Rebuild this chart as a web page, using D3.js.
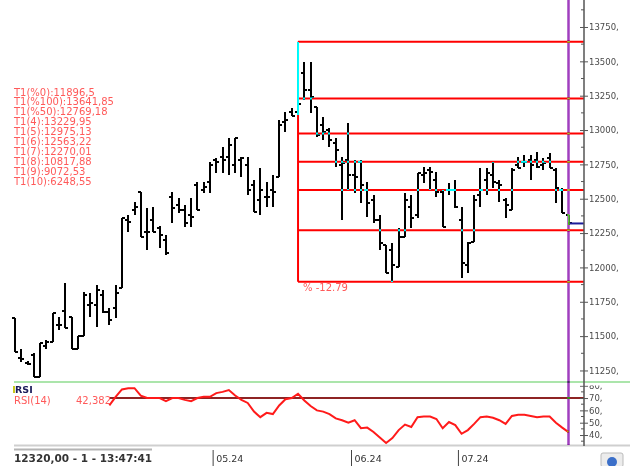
<!DOCTYPE html>
<html>
<head>
<meta charset="utf-8">
<script src="https://cdn.jsdelivr.net/npm/d3@7"></script>
<style>
    body { margin: 0; background: #fff; }
    svg { display: block; font-family: "DejaVu Sans", Verdana, sans-serif; }
</style>
</head>
<body>
<svg id="chart-svg" width="639" height="466"></svg>
<script>

const opens = [11632, 11341, 11305, 11363, 11203, 11428, 11457, 11581, 11683, 11639,
    11406, 11501, 11727, 11727, 11799, 11676, 11705, 11850, 12345, 12418,
    12549, 12258, 12345, 12287, 12200, 12513, 12454, 12418, 12382, 12600,
    12564, 12622, 12782, 12804, 12804, 12746, 12782, 12746, 12600, 12491,
    12513, 12564, 12658, 13059, 13131, 13131, 13415, 13291, 13168, 13037,
    13000, 12906, 12746, 12782, 12673, 12767, 12564, 12491, 12345, 12163,
    12127, 12003, 12222, 12440, 12382, 12673, 12709, 12636, 12549, 12564,
    12564, 12345, 12018, 12185, 12527, 12636, 12673, 12615, 12491, 12418,
    12746, 12767, 12782, 12782, 12746, 12797, 12709, 12564, 12382];

const highs = [11632, 11406, 11319, 11377, 11450, 11472, 11668, 11639, 11887, 11639,
    11501, 11821, 11814, 11872, 11836, 11705, 11872, 12360, 12382, 12476,
    12549, 12433, 12440, 12302, 12236, 12549, 12505, 12454, 12505, 12622,
    12622, 12767, 12797, 12877, 12942, 12942, 12804, 12804, 12636, 12724,
    12622, 12673, 13073, 13131, 13160, 13641.85, 13495, 13495, 13168, 13095,
    13015, 12942, 12804, 13051, 12782, 12782, 12622, 12527, 12382, 12163,
    12178, 12287, 12542, 12527, 12687, 12731, 12731, 12695, 12564, 12615,
    12636, 12440, 12185, 12527, 12724, 12724, 12767, 12636, 12505, 12724,
    12804, 12818, 12818, 12840, 12797, 12833, 12724, 12578, 12382];

const lows = [11385, 11312, 11290, 11203, 11203, 11406, 11457, 11545, 11559, 11406,
    11406, 11501, 11639, 11567, 11668, 11581, 11632, 11850, 12258, 12382,
    12222, 12127, 12258, 12142, 12091, 12323, 12396, 12294, 12294, 12418,
    12542, 12542, 12687, 12687, 12673, 12687, 12658, 12527, 12404, 12382,
    12440, 12440, 12658, 12986, 13102, 13110, 13219, 13124, 12949, 12928,
    12877, 12731, 12345, 12564, 12542, 12469, 12367, 12323, 12127, 11960,
    11896.5, 12003, 12222, 12287, 12360, 12615, 12564, 12513, 12294, 12527,
    12433, 11923, 11960, 12185, 12440, 12527, 12578, 12476, 12360, 12418,
    12724, 12731, 12636, 12724, 12709, 12724, 12469, 12396, 12310];

const closes = [11385, 11334, 11297, 11203, 11450, 11457, 11668, 11581, 11559, 11406,
    11501, 11799, 11741, 11836, 11676, 11618, 11814, 12360, 12331, 12440,
    12222, 12258, 12258, 12236, 12105, 12433, 12418, 12323, 12367, 12418,
    12586, 12746, 12767, 12782, 12891, 12942, 12797, 12564, 12404, 12564,
    12513, 12549, 13037, 13073, 13102, 13190, 13291, 13240, 12964, 12986,
    12928, 12855, 12760, 12673, 12658, 12600, 12469, 12345, 12178, 11960,
    12018, 12222, 12491, 12360, 12687, 12687, 12695, 12549, 12294, 12564,
    12440, 12032, 12178, 12491, 12564, 12687, 12622, 12600, 12454, 12709,
    12724, 12767, 12746, 12731, 12760, 12724, 12578, 12396, 12320];

// RSI(14), first value belongs to bar rsiStart
const rsiStart = 15;
const rsiValues = [64, 71, 77, 78, 78, 72, 70, 70, 70, 67.5,
    70, 70, 68.5, 67.5, 70, 71, 71, 74, 75, 76.5,
    72, 68.5, 66, 59, 54.5, 58, 57, 64, 69, 70,
    73.5, 68, 63.5, 60, 59, 57, 53.5, 52, 50, 52,
    45.5, 46, 42.5, 38, 33.5, 37.5, 44, 48.5, 46.5, 54.5,
    55, 55, 53, 45.5, 50.5, 48, 41, 44, 49, 54.5,
    55, 54, 52, 49, 55.5, 56.5, 56.5, 55.5, 54.5, 55,
    55, 50, 46, 42.382];

const fibNames = ['T1(%0)', 'T1(%100)', 'T1(%50)', 'T1(4)', 'T1(5)', 'T1(6)', 'T1(7)', 'T1(8)', 'T1(9)', 'T1(10)'];
const fibValues = [11896.5, 13641.85, 12769.18, 13229.95, 12975.13, 12563.22, 12270.01, 10817.88, 9072.53, 6248.55];
const fibHighIndex = 45;

const priceTicks = [11250, 11500, 11750, 12000, 12250, 12500, 12750, 13000, 13250, 13500, 13750];
const rsiTicks = [40, 50, 60, 70, 80];
const rsiLevel = 70;

const monthLabels = ['05.24', '06.24', '07.24'];
const monthStarts = [32, 54, 71];

const lastPrice = 12320;
const statusText = '12320,00 - 1 - 13:47:41';


class OhlcChart {

    constructor() {
        this.svg = d3.select('#chart-svg');
        this.axisX = 584;
        this.xScale = d3.scaleLinear().domain([0, closes.length - 1]).range([15, 568.5]);
        this.yScale = d3.scaleLinear().domain([11166, 13946.5]).range([382, 0]);
        this.rsiScale = d3.scaleLinear().domain([31.9, 82.2]).range([445, 383]);
        this.step = this.xScale(1) - this.xScale(0);
    }

    draw() {
        this.drawFrame();
        this.drawBars();
        this.drawFibo();
        this.drawRsi();
        this.drawMarkers();
        this.drawAxes();
        this.drawTexts();
    }

    drawFrame() {
        let svg = this.svg;

        svg.append('rect').attr('width', 639).attr('height', 466).attr('fill', '#fff');

        // panel separator
        svg.append('line')
            .attr('x1', 14).attr('x2', 630).attr('y1', 382).attr('y2', 382)
            .attr('stroke', '#8fdc8f').attr('stroke-width', 1.5);

        svg.append('line')
            .attr('x1', 14).attr('x2', 630).attr('y1', 445.5).attr('y2', 445.5)
            .attr('stroke', '#cfcfcf').attr('stroke-width', 2);
    }

    drawBars() {
        let x = this.xScale, y = this.yScale;

        let g = this.svg.append('g')
            .attr('stroke', '#000')
            .attr('stroke-width', 2)
            .attr('fill', 'none')
            .attr('shape-rendering', 'crispEdges');

        g.selectAll('path')
            .data(closes)
            .enter()
            .append('path')
            .attr('d', (d, i) => {
                let p = d3.path();
                p.moveTo(x(i), y(highs[i]));
                p.lineTo(x(i), y(lows[i]));
                p.moveTo(x(i) - 3, y(opens[i]));
                p.lineTo(x(i), y(opens[i]));
                p.moveTo(x(i), y(d));
                p.lineTo(x(i) + 3, y(d));
                return p.toString();
            });
    }

    drawFibo() {
        let x = this.xScale, y = this.yScale;
        let [lo, hi] = d3.extent(fibValues.slice(0, 7));
        let x0 = x(fibHighIndex);

        let p = d3.path();
        p.moveTo(x0, y(hi));
        p.lineTo(x0, y(lo));
        fibValues.forEach(v => {
            if (v >= y.domain()[0]) {
                p.moveTo(x0, y(v));
                p.lineTo(this.axisX, y(v));
            }
        });

        // difference blend: red on white, cyan over the black bars
        this.svg.append('path')
            .attr('d', p.toString())
            .attr('fill', 'none')
            .attr('stroke', '#00ffff')
            .attr('stroke-width', 2)
            .style('mix-blend-mode', 'difference');

        let pct = ((fibValues[0] - fibValues[1]) / fibValues[1] * 100).toFixed(2);
        this.svg.append('text')
            .attr('x', x0 + 5)
            .attr('y', y(fibValues[0]) + 9)
            .attr('font-size', 10)
            .attr('fill', '#ff5a5a')
            .text('% ' + pct);
    }

    drawRsi() {
        let x = this.xScale, r = this.rsiScale;

        this.svg.append('line')
            .attr('x1', x(rsiStart)).attr('x2', this.axisX)
            .attr('y1', r(rsiLevel)).attr('y2', r(rsiLevel))
            .attr('stroke', '#8e2424').attr('stroke-width', 2);

        let line = d3.line()
            .x((d, i) => x(i + rsiStart))
            .y(d => r(d));

        this.svg.append('path')
            .attr('d', line(rsiValues))
            .attr('fill', 'none')
            .attr('stroke', '#ff1a1a')
            .attr('stroke-width', 2);
    }

    drawMarkers() {
        let x = this.xScale, y = this.yScale;
        let last = closes.length - 1;

        this.svg.append('line')
            .attr('x1', x(last)).attr('x2', this.axisX)
            .attr('y1', y(lastPrice)).attr('y2', y(lastPrice))
            .attr('stroke', '#1c1c9a').attr('stroke-width', 2);

        // purple cursor line, shows green over black
        this.svg.append('line')
            .attr('x1', x(last)).attr('x2', x(last))
            .attr('y1', 0).attr('y2', 445)
            .attr('stroke', '#5fc040').attr('stroke-width', 2.5)
            .style('mix-blend-mode', 'difference');
    }

    drawAxes() {
        let svg = this.svg;
        let ax = this.axisX;

        svg.append('line')
            .attr('x1', ax).attr('x2', ax).attr('y1', 0).attr('y2', 446)
            .attr('stroke', '#555').attr('stroke-width', 1.5);

        let priceAxis = d3.axisRight(this.yScale)
            .tickValues(priceTicks)
            .tickSize(4)
            .tickPadding(1)
            .tickFormat(d => d + ',');

        let pg = svg.append('g')
            .attr('transform', 'translate(' + ax + ',0)')
            .call(priceAxis);
        this.styleAxis(pg);

        let minor = d3.range(11125, 14000, 250);
        svg.append('g').selectAll('line')
            .data(minor.filter(d => d > this.yScale.domain()[0]))
            .enter().append('line')
            .attr('x1', ax - 3).attr('x2', ax)
            .attr('y1', d => this.yScale(d)).attr('y2', d => this.yScale(d))
            .attr('stroke', '#555');

        svg.append('clipPath').attr('id', 'rsi-clip')
            .append('rect').attr('x', ax - 10).attr('y', 385.5).attr('width', 60).attr('height', 60);

        let rsiAxis = d3.axisRight(this.rsiScale)
            .tickValues(rsiTicks)
            .tickSize(4)
            .tickPadding(1)
            .tickFormat(d => d + ',');

        let rg = svg.append('g')
            .attr('clip-path', 'url(#rsi-clip)')
            .append('g')
            .attr('transform', 'translate(' + ax + ',0)')
            .call(rsiAxis);
        this.styleAxis(rg);

        svg.append('g').selectAll('line')
            .data(d3.range(35, 80, 10))
            .enter().append('line')
            .attr('x1', ax - 3).attr('x2', ax)
            .attr('y1', d => this.rsiScale(d)).attr('y2', d => this.rsiScale(d))
            .attr('stroke', '#555');

        // month ticks at the left edge of the first bar
        let mg = svg.append('g').selectAll('g')
            .data(monthStarts)
            .enter().append('g')
            .attr('transform', d => 'translate(' + (this.xScale(d) - this.step / 2) + ',0)');
        mg.append('line')
            .attr('y1', 450).attr('y2', 466)
            .attr('stroke', '#444');
        mg.append('text')
            .attr('x', 3).attr('y', 462)
            .attr('font-size', 9.5)
            .attr('fill', '#333')
            .text((d, i) => monthLabels[i]);
    }

    styleAxis(g) {
        g.select('.domain').remove();
        g.selectAll('.tick line').attr('x1', -4).attr('stroke', '#555');
        g.selectAll('.tick text')
            .attr('font-family', '"DejaVu Sans", Verdana, sans-serif')
            .attr('font-size', 8.5)
            .attr('fill', '#4a4a4a');
    }

    drawTexts() {
        let svg = this.svg;

        svg.append('g').selectAll('text')
            .data(fibValues)
            .enter().append('text')
            .attr('x', 14)
            .attr('y', (d, i) => 95.5 + i * 9.9)
            .attr('font-size', 10)
            .attr('fill', '#ff5a5a')
            .text((d, i) => fibNames[i] + ':' + String(d).replace('.', ','));

        svg.append('rect')
            .attr('x', 13).attr('y', 386).attr('width', 2).attr('height', 7)
            .attr('fill', '#c8c820');
        svg.append('text')
            .attr('x', 15).attr('y', 393)
            .attr('font-size', 9.5).attr('font-weight', 'bold')
            .attr('fill', '#1c1c5a')
            .text('RSI');
        svg.append('text')
            .attr('x', 14).attr('y', 404)
            .attr('font-size', 10)
            .attr('fill', '#ff5a5a')
            .text('RSI(14)');
        svg.append('text')
            .attr('x', 76).attr('y', 404)
            .attr('font-size', 10)
            .attr('fill', '#ff5a5a')
            .text(String(rsiValues[rsiValues.length - 1]).replace('.', ','));

        svg.append('line')
            .attr('x1', 14).attr('x2', 152).attr('y1', 449.5).attr('y2', 449.5)
            .attr('stroke', '#b4b4b4').attr('stroke-width', 2);
        svg.append('text')
            .attr('x', 14).attr('y', 462)
            .attr('font-size', 10.5).attr('font-weight', 'bold')
            .attr('fill', '#333')
            .text(statusText);

        // small button bottom right
        svg.append('rect')
            .attr('x', 601).attr('y', 453).attr('width', 22).attr('height', 14).attr('rx', 2)
            .attr('fill', '#ececec').attr('stroke', '#bbb');
        svg.append('circle')
            .attr('cx', 612).attr('cy', 462).attr('r', 5)
            .attr('fill', '#3b6fc9');
    }
}

let chart = new OhlcChart();
chart.draw();

</script>
</body>
</html>
